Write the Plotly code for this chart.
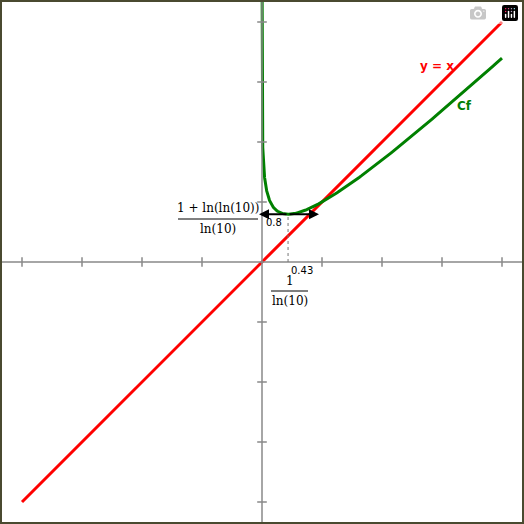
import numpy as np
import plotly.graph_objects as go

# f(x) = x - log10(x), its minimum and the line y = x
x_min = 1 / np.log(10)
y_min = (1 + np.log(np.log(10))) / np.log(10)
line_x = [-4, 4]
ticks = [-4, -3, -2, -1, 1, 2, 3, 4]

cf_x = np.geomspace(1e-5, 4, 600)
cf_y = cf_x - np.log10(cf_x)

R = 524 / 120  # half range so that 1 unit = 60 px

def px(u):
    return (u - 262) / 60

def py(v):
    return (262 - v) / 60

fig = go.Figure()

shapes = []
gray = "#888888"
shapes.append(dict(type="line", x0=-R, x1=R, y0=0, y1=0, line=dict(color=gray, width=1.5)))
shapes.append(dict(type="line", x0=0, x1=0, y0=-R, y1=R, line=dict(color=gray, width=1.5)))
for t in ticks:
    shapes.append(dict(type="line", x0=t, x1=t, y0=-0.08, y1=0.08, line=dict(color=gray, width=1.5)))
    shapes.append(dict(type="line", y0=t, y1=t, x0=-0.08, x1=0.08, line=dict(color=gray, width=1.5)))
# dotted guide
shapes.append(dict(type="line", x0=x_min, x1=x_min, y0=0, y1=y_min,
                   line=dict(color="#777777", width=1, dash="dot")))
# fraction bars
shapes.append(dict(type="line", x0=px(178), x1=px(258), y0=py(219), y1=py(219), line=dict(color="black", width=1)))
shapes.append(dict(type="line", x0=px(271), x1=px(308), y0=py(291), y1=py(291), line=dict(color="black", width=1)))
# frame
shapes.append(dict(type="rect", xref="paper", yref="paper", x0=0, x1=1, y0=0, y1=1,
                   line=dict(color="#4a4a30", width=4)))

fig.add_trace(go.Scatter(x=line_x, y=line_x, mode="lines", line=dict(color="#ff0000", width=3), hoverinfo="skip"))
fig.add_trace(go.Scatter(x=cf_x, y=cf_y, mode="lines", line=dict(color="#008000", width=3), hoverinfo="skip"))

serif = dict(family="DejaVu Serif", size=12, color="black")
sans = dict(family="DejaVu Sans", size=10, color="black")
ann = [
    dict(x=2.92, y=3.27, text="<b>y = x</b>", font=dict(family="DejaVu Sans", size=12, color="#ff0000")),
    dict(x=3.37, y=2.6, text="<b>Cf</b>", font=dict(family="DejaVu Sans", size=12, color="#008000")),
    dict(x=px(274), y=py(222), text="0.8", font=sans),
    dict(x=px(302), y=py(270), text="0.43", font=sans),
    dict(x=px(218), y=py(208), text="1 + ln(ln(10))", font=serif),
    dict(x=px(218), y=py(229), text="ln(10)", font=serif),
    dict(x=px(290), y=py(281), text="1", font=serif),
    dict(x=px(290), y=py(301), text="ln(10)", font=serif),
]
for a in ann:
    a.update(showarrow=False, xref="x", yref="y")
for tip in (-0.05, 0.95):
    ann.append(dict(x=tip, y=y_min, ax=x_min, ay=y_min, xref="x", yref="y", axref="x", ayref="y",
                    showarrow=True, arrowhead=2, arrowsize=1, arrowwidth=2, arrowcolor="black", text=""))

fig.update_layout(
    width=524, height=524, margin=dict(l=0, r=0, t=0, b=0),
    plot_bgcolor="white", paper_bgcolor="white", showlegend=False,
    xaxis=dict(range=[-R, R], visible=False, fixedrange=True),
    yaxis=dict(range=[-R, R], visible=False, fixedrange=True),
    shapes=shapes, annotations=ann,
)
fig.write_html("out.html", post_script="document.body.style.margin='0';document.body.style.overflow='hidden';")
